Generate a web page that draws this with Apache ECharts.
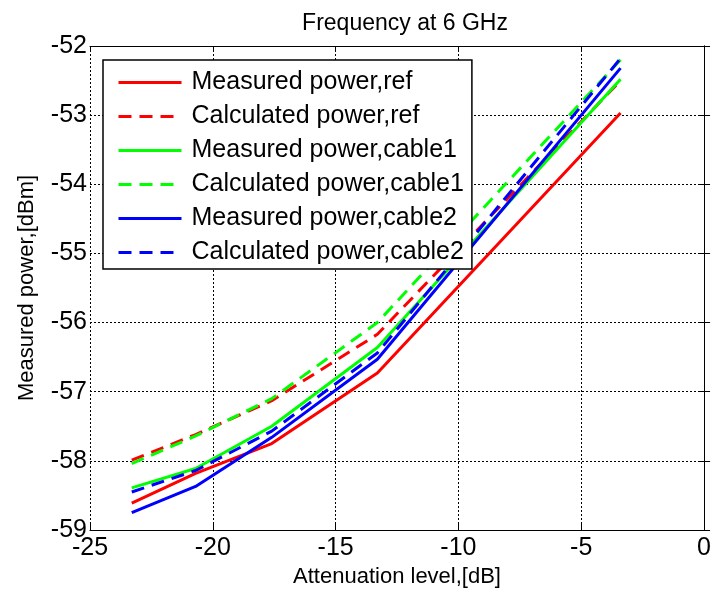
<!DOCTYPE html>
<html>
<head>
<meta charset="utf-8">
<script src="https://cdn.jsdelivr.net/npm/echarts@6/dist/echarts.min.js"></script>
<style>
  html, body { margin: 0; padding: 0; background: #fff; }
  #chart { width: 714px; height: 597px; }
</style>
</head>
<body>
<div id="chart"></div>
<script>
  // attenuation levels (x) and power readings (y)
  const attenuation = [-23.3, -20.7, -17.6, -13.3, -3.4];
  const measRef = [-58.61, -58.18, -57.75, -56.73, -52.97];
  const calcRef = [-57.99, -57.62, -57.13, -56.17, -52.5];
  const measCable1 = [-58.39, -58.11, -57.5, -56.36, -52.48];
  const calcCable1 = [-58.04, -57.64, -57.1, -56.0, -52.2];
  const measCable2 = [-58.75, -58.37, -57.66, -56.53, -52.32];
  const calcCable2 = [-58.45, -58.14, -57.57, -56.44, -52.18];

  const font = "'Liberation Sans', Arial, sans-serif";

  function pairs(values) {
    return attenuation.map(function (x, i) {
      return [x, values[i]];
    });
  }

  function line(name, color, values, dashed) {
    return {
      name: name,
      type: "line",
      symbol: "none",
      showSymbol: false,
      data: pairs(values),
      lineStyle: {
        color: color,
        width: 3,
        type: dashed ? [13, 8] : "solid",
      },
      itemStyle: { color: color },
    };
  }

  let myChart = echarts.init(document.getElementById("chart"));
  myChart.setOption({
    animation: false,
    backgroundColor: "#fff",
    textStyle: { fontFamily: font },
    title: {
      text: "Frequency at 6 GHz",
      left: 400,
      top: 7,
      textAlign: "center",
      textStyle: { fontFamily: font, fontSize: 23, fontWeight: "normal", color: "#000" },
    },
    grid: { left: 90, right: 8, top: 46, bottom: 67 },
    legend: {
      orient: "vertical",
      left: 103,
      top: 60,
      padding: [10, 8, 4, 14],
      itemWidth: 63,
      itemHeight: 14,
      itemGap: 9,
      backgroundColor: "#fff",
      borderColor: "#000",
      borderWidth: 1.5,
      itemStyle: { opacity: 0 },
      lineStyle: { width: 3 },
      textStyle: {
        fontFamily: font,
        fontSize: 25,
        color: "#000",
        width: 282,
        padding: [0, 0, 0, 5],
      },
    },
    xAxis: [
      {
        type: "value",
        min: -25,
        max: 0,
        interval: 5,
        name: "Attenuation level,[dB]",
        nameLocation: "middle",
        nameGap: 36,
        nameTextStyle: { fontFamily: font, fontSize: 22, color: "#000" },
        axisLine: { lineStyle: { color: "#000", width: 1 } },
        axisTick: { inside: true, length: 6, lineStyle: { color: "#000" } },
        axisLabel: { fontFamily: font, fontSize: 25, color: "#000", margin: 6 },
        splitLine: { show: true, lineStyle: { color: "#000", type: [2, 2], width: 1 } },
      },
      {
        type: "value",
        position: "top",
        min: -25,
        max: 0,
        interval: 5,
        axisLine: { show: true, lineStyle: { color: "#000", width: 1 } },
        axisTick: { show: true, inside: true, length: 6, lineStyle: { color: "#000" } },
        axisLabel: { show: false },
        splitLine: { show: false },
      },
    ],
    yAxis: [
      {
        type: "value",
        min: -59,
        max: -52,
        interval: 1,
        name: "Measured power,[dBm]",
        nameLocation: "middle",
        nameGap: 52,
        nameTextStyle: { fontFamily: font, fontSize: 22, color: "#000" },
        axisLine: { show: true, lineStyle: { color: "#000", width: 1 } },
        axisTick: { show: true, inside: true, length: 6, lineStyle: { color: "#000" } },
        axisLabel: { fontFamily: font, fontSize: 25, color: "#000", margin: 3 },
        splitLine: { show: true, lineStyle: { color: "#000", type: [2, 2], width: 1 } },
      },
      {
        type: "value",
        position: "right",
        min: -59,
        max: -52,
        interval: 1,
        axisLine: { show: true, lineStyle: { color: "#000", width: 1 } },
        axisTick: { show: true, inside: true, length: 6, lineStyle: { color: "#000" } },
        axisLabel: { show: false },
        splitLine: { show: false },
      },
    ],
    series: [
      line("Measured power,ref", "#ff0000", measRef, false),
      line("Calculated power,ref", "#ff0000", calcRef, true),
      line("Measured power,cable1", "#00ff00", measCable1, false),
      line("Calculated power,cable1", "#00ff00", calcCable1, true),
      line("Measured power,cable2", "#0000ff", measCable2, false),
      line("Calculated power,cable2", "#0000ff", calcCable2, true),
    ],
  });
</script>
</body>
</html>
